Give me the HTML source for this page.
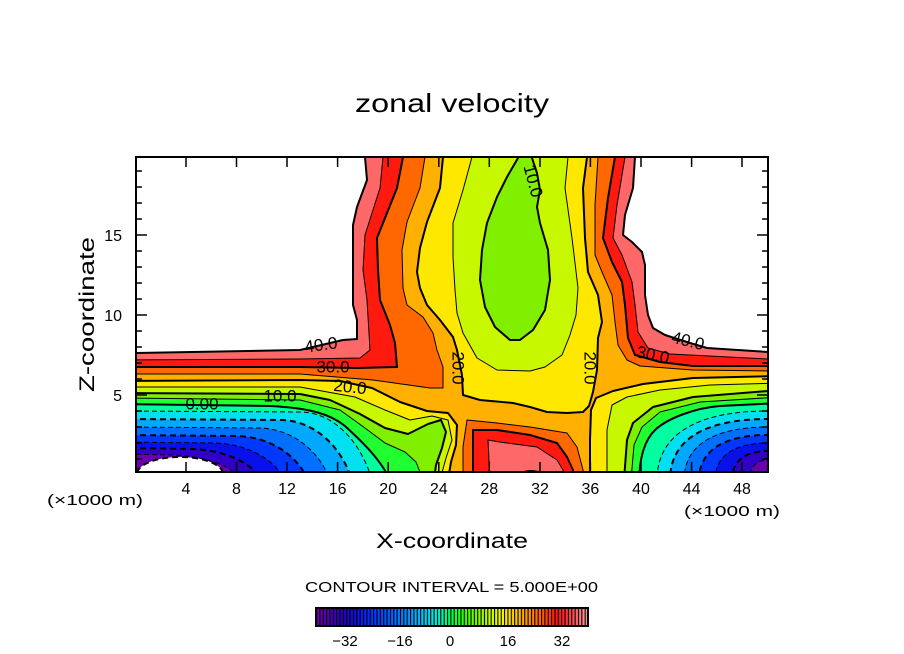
<!DOCTYPE html>
<html><head><meta charset="utf-8"><style>
html,body{margin:0;padding:0;background:#fff;}
svg{display:block;}
text{font-family:"Liberation Sans",sans-serif;fill:#000;}
</style></head><body>
<svg width="904" height="654" viewBox="0 0 904 654" xmlns="http://www.w3.org/2000/svg">
<defs>
<clipPath id="pc"><rect x="136" y="157" width="632" height="315"/></clipPath>
<linearGradient id="cb" x1="316" y1="0" x2="588" y2="0" gradientUnits="userSpaceOnUse">
<stop offset="0" stop-color="#7000a8"/>
<stop offset="0.049" stop-color="#5000b0"/>
<stop offset="0.099" stop-color="#2800c0"/>
<stop offset="0.148" stop-color="#1010e0"/>
<stop offset="0.198" stop-color="#0030ff"/>
<stop offset="0.247" stop-color="#0050ff"/>
<stop offset="0.296" stop-color="#0070ff"/>
<stop offset="0.346" stop-color="#0098ff"/>
<stop offset="0.395" stop-color="#00c8ff"/>
<stop offset="0.444" stop-color="#00f0e0"/>
<stop offset="0.494" stop-color="#00ff60"/>
<stop offset="0.543" stop-color="#30ff00"/>
<stop offset="0.593" stop-color="#80f800"/>
<stop offset="0.642" stop-color="#c8ff00"/>
<stop offset="0.691" stop-color="#fff000"/>
<stop offset="0.741" stop-color="#ffc000"/>
<stop offset="0.79" stop-color="#ff8800"/>
<stop offset="0.84" stop-color="#ff5000"/>
<stop offset="0.889" stop-color="#ff1010"/>
<stop offset="0.938" stop-color="#ff4848"/>
<stop offset="0.988" stop-color="#ff9090"/>
<stop offset="1" stop-color="#ff9898"/>
</linearGradient>
<pattern id="st" x="316" y="0" width="3.358" height="60" patternUnits="userSpaceOnUse"><rect x="0" y="0" width="1.1" height="60" fill="#000"/></pattern>
</defs>
<rect width="904" height="654" fill="#fff"/>

<g clip-path="url(#pc)" stroke="#000" stroke-linejoin="round">
<rect x="136" y="157" width="632" height="315" fill="#6a00b0" stroke="none"/>
<path fill-rule="evenodd" fill="#3000c8" stroke-width="1" stroke-dasharray="5 3" d="M0,0H904V654H0Z M120,454 L172,455 C202,456 230,464 242,480 L120,480Z M780,460 L768,460 C756,460 750,467 750,480 L780,480Z"/>
<path fill-rule="evenodd" fill="#0a10e8" stroke-width="2" stroke-dasharray="6 4" d="M0,0H904V654H0Z M120,448 L192,449 C222,450 250,461 262,480 L120,480Z M780,451 L768,451 C745,451 732,461 732,480 L780,480Z"/>
<path fill-rule="evenodd" fill="#0038ff" stroke-width="1" stroke-dasharray="5 3" d="M0,0H904V654H0Z M120,442 L215,443 C245,444 273,457 285,480 L120,480Z M780,443 L768,443 C734,443 715,456 715,480 L780,480Z"/>
<path fill-rule="evenodd" fill="#0070ff" stroke-width="2" stroke-dasharray="6 4" d="M0,0H904V654H0Z M120,435 L238,436 C268,437 296,453 308,480 L120,480Z M780,435 L768,435 C723,435 699,451 699,480 L780,480Z"/>
<path fill-rule="evenodd" fill="#00a8ff" stroke-width="1" stroke-dasharray="5 3" d="M0,0H904V654H0Z M120,427 L260,428 C290,429 318,448 330,480 L120,480Z M780,427 L768,427 C713,427 684,446 684,480 L780,480Z"/>
<path fill-rule="evenodd" fill="#00e0f0" stroke-width="2" stroke-dasharray="6 4" d="M0,0H904V654H0Z M120,419 L282,420 C312,421 340,443 352,480 L120,480Z M780,419 L768,419 C704,419 670,440 670,480 L780,480Z"/>
<path fill-rule="evenodd" fill="#00ffa0" stroke-width="1" stroke-dasharray="5 3" d="M0,0H904V654H0Z M120,411 L302,412 C332,413 360,439 372,480 L120,480Z M780,411 L768,411 C696,411 657,435 657,480 L780,480Z"/>
<path fill-rule="evenodd" fill="#20ff30" stroke-width="2" d="M0,0H904V654H0Z M120,404 L270,406 C310,408 330,414 345,426 C360,440 380,458 390,480 L120,480Z M780,403 L720,406 C695,408 668,418 655,430 C645,440 640,455 639,480 L780,480Z"/>
<path fill-rule="evenodd" fill="#80f000" stroke-width="1" d="M0,0H904V654H0Z M120,398 L300,400 L340,410 L365,428 L385,443 L405,452 L416,462 L420,472 L421,480 L120,480Z M780,397 L700,402 L660,412 L642,427 L634,445 L631,480 L780,480Z"/>
<path fill-rule="evenodd" fill="#c8f800" stroke-width="2" d="M0,0H904V654H0Z M120,393 L300,394 L330,400 L360,414 L385,428 L408,434 L428,424 L441,420 L446,432 L442,448 L436,465 L434,480 L120,480Z M780,390 L693,397 L653,407 L633,423 L627,440 L624,480 L780,480Z M518,150 L518,158 L507,177 L497,197 L487,223 L482,250 L480,280 L485,307 L495,327 L510,340 L520,340 L533,330 L545,310 L550,280 L548,250 L540,223 L537,207 L540,190 L537,173 L532,158 L532,150Z"/>
<path fill-rule="evenodd" fill="#ffe800" stroke-width="1" d="M0,0H904V654H0Z M120,387 L300,387 L355,397 L385,410 L410,420 L432,416 L448,420 L452,440 L446,458 L440,480 L120,480Z M780,383 L710,385 L660,390 L627,397 L612,405 L607,430 L607,480 L780,480Z M472,150 L472,157 L463,190 L453,223 L453,257 L455,290 L457,313 L463,333 L477,358 L497,370 L530,371 L545,367 L562,355 L570,335 L576,315 L578,288 L572,238 L565,188 L568,157 L568,150Z"/>
<path fill-rule="evenodd" fill="#ffb000" stroke-width="2" d="M0,0H904V654H0Z M120,381 L300,380 L340,381 L372,388 L400,402 L427,411 L448,413 L457,425 L456,445 L451,462 L448,480 L120,480Z M780,376 L693,378 L643,384 L613,391 L596,398 L591,410 L590,440 L590,480 L780,480Z M443,150 L443,157 L440,188 L427,222 L420,248 L417,272 L420,288 L427,305 L440,320 L453,337 L457,350 L462,375 L463,395 L480,400 L513,403 L530,407 L547,412 L567,413 L583,412 L589,406 L593,392 L597,370 L598,338 L602,322 L598,295 L588,272 L585,238 L583,188 L587,157 L587,150Z"/>
<g fill="#ff6800" stroke-width="1">
<path d="M100,100 L425,100 L425,157 L420,188 L407,222 L402,250 L403,288 L407,305 L423,317 L433,333 L437,350 L443,367 L443,388 L430,388 L373,380 L300,374 L100,374 Z"/>
<path d="M598,100 L598,157 L595,205 L595,255 L602,272 L612,295 L615,322 L618,345 L627,360 L640,366 L693,370 L768,371 L800,371 L800,100 Z"/>
<path d="M463,480 L463,447 L467,420 L497,423 L530,427 L567,433 L577,447 L583,470 L585,480 Z"/>
</g>
<g fill="#ff1a10" stroke-width="2">
<path d="M100,100 L403,100 L403,157 L397,188 L377,238 L378,270 L380,300 L390,325 L395,343 L397,367 L358,368 L300,367 L100,367 Z"/>
<path d="M615,100 L615,157 L608,198 L603,238 L612,262 L622,282 L625,305 L628,338 L635,355 L660,362 L693,366 L768,366 L800,366 L800,100 Z"/>
<path d="M473,480 L473,430 L497,430 L530,435 L557,443 L567,457 L573,470 L575,480 Z"/>
</g>
<g fill="#ff6868" stroke-width="1">
<path d="M100,100 L383,100 L383,157 L380,188 L365,235 L363,270 L367,300 L370,350 L360,358 L300,359 L100,360 Z"/>
<path d="M625,100 L625,157 L617,205 L613,238 L622,255 L632,282 L635,305 L638,332 L648,348 L670,354 L768,359 L800,359 L800,100 Z"/>
<path d="M490,480 L488,440 L500,442 L537,447 L557,460 L563,470 L565,480 Z"/>
</g>
<g fill="#fff" stroke-width="2">
<path d="M100,100 L365,100 L365,157 L367,180 L357,207 L353,225 L353,305 L357,320 L357,339 L343,340 L300,350 L136,353 L100,353 Z"/>
<path d="M635,100 L635,157 L633,188 L625,215 L623,235 L632,242 L642,252 L645,265 L645,295 L648,315 L653,328 L665,335 L690,343 L707,348 L768,352 L800,352 L800,100 Z"/>
<ellipse cx="531" cy="474" rx="9" ry="3"/>
</g>
<ellipse cx="180" cy="474" rx="43" ry="17" fill="#fff" stroke-width="2" stroke-dasharray="6 4"/>
</g>

<g font-size="17" text-anchor="middle" dominant-baseline="central">
<text transform="translate(321,345) rotate(-8)">40.0</text>
<text x="333" y="367">30.0</text>
<text transform="translate(350,387) rotate(6)">20.0</text>
<text x="280" y="396">10.0</text>
<text x="202" y="404">0.00</text>
<text transform="translate(458,368) rotate(90)">20.0</text>
<text transform="translate(590,368) rotate(90)">20.0</text>
<text transform="translate(533,181) rotate(75)">10.0</text>
<text transform="translate(688,341) rotate(14)">40.0</text>
<text transform="translate(653,355) rotate(12)">30.0</text>
</g>

<rect x="136" y="157" width="632" height="315" fill="none" stroke="#000" stroke-width="2"/>
<path stroke="#000" stroke-width="1.5" fill="none" d="
M186,472V462 M236.5,472V462 M287,472V462 M337.6,472V462 M388.2,472V462 M438.8,472V462 M489.3,472V462 M540,472V462 M590.4,472V462 M641,472V462 M691.6,472V462 M742,472V462
M186,157V167 M236.5,157V167 M287,157V167 M337.6,157V167 M388.2,157V167 M438.8,157V167 M489.3,157V167 M540,157V167 M590.4,157V167 M641,157V167 M691.6,157V167 M742,157V167
M136,459H142 M136,443H142 M136,427H142 M136,411H142 M136,379H142 M136,363H142 M136,347H142 M136,331H142 M136,299H142 M136,283H142 M136,267H142 M136,251H142 M136,219H142 M136,203H142 M136,187H142 M136,171H142
M136,395H147 M136,315H147 M136,235H147
M768,459H762 M768,443H762 M768,427H762 M768,411H762 M768,379H762 M768,363H762 M768,347H762 M768,331H762 M768,299H762 M768,283H762 M768,267H762 M768,251H762 M768,219H762 M768,203H762 M768,187H762 M768,171H762
M768,395H757 M768,315H757 M768,235H757"/>

<g font-size="16" text-anchor="middle">
<text x="186" y="494">4</text>
<text x="236.5" y="494">8</text>
<text x="287" y="494">12</text>
<text x="337.6" y="494">16</text>
<text x="388.2" y="494">20</text>
<text x="438.8" y="494">24</text>
<text x="489.3" y="494">28</text>
<text x="540" y="494">32</text>
<text x="590.4" y="494">36</text>
<text x="641" y="494">40</text>
<text x="691.6" y="494">44</text>
<text x="742" y="494">48</text>
</g>
<g font-size="16" text-anchor="end">
<text x="122" y="401">5</text>
<text x="122" y="321">10</text>
<text x="122" y="241">15</text>
</g>
<text x="47" y="505" font-size="15" textLength="96" lengthAdjust="spacingAndGlyphs">(×1000 m)</text>
<text x="684" y="516" font-size="15" textLength="96" lengthAdjust="spacingAndGlyphs">(×1000 m)</text>

<text x="355" y="112" font-size="26" textLength="194" lengthAdjust="spacingAndGlyphs">zonal velocity</text>
<text x="376" y="548" font-size="21" textLength="152" lengthAdjust="spacingAndGlyphs">X-coordinate</text>
<text transform="translate(94,392) rotate(-90)" font-size="21" textLength="155" lengthAdjust="spacingAndGlyphs">Z-coordinate</text>

<text x="305" y="592" font-size="15" textLength="293" lengthAdjust="spacingAndGlyphs">CONTOUR INTERVAL = 5.000E+00</text>
<rect x="316" y="608" width="272" height="18" fill="url(#cb)"/>
<rect x="316" y="608" width="272" height="18" fill="url(#st)"/>
<rect x="316" y="608" width="272" height="18" fill="none" stroke="#000" stroke-width="2"/>
<g font-size="15" text-anchor="middle">
<text x="345" y="646">−32</text>
<text x="400" y="646">−16</text>
<text x="450" y="646">0</text>
<text x="508" y="646">16</text>
<text x="562" y="646">32</text>
</g>
</svg>
</body></html>
